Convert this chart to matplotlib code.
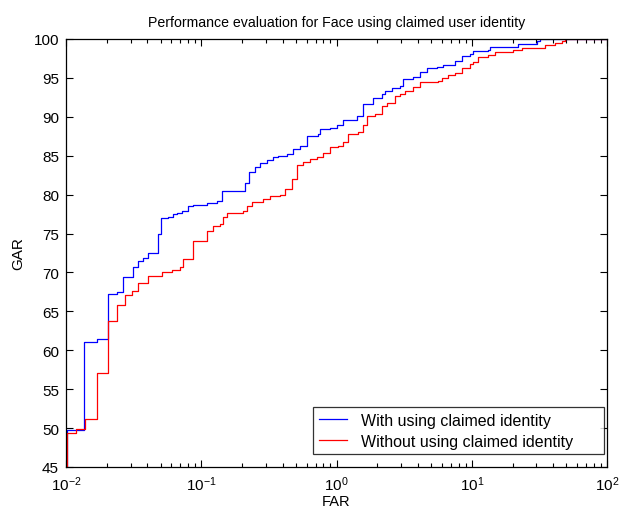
import matplotlib
matplotlib.use("Agg")
import matplotlib.pyplot as plt
from matplotlib.ticker import LogLocator

plt.rcParams['font.family'] = ['Liberation Sans', 'DejaVu Sans']
plt.rcParams['mathtext.fontset'] = 'custom'
plt.rcParams['mathtext.rm'] = 'Liberation Sans'
plt.rcParams['mathtext.it'] = 'Liberation Sans'
plt.rcParams['axes.unicode_minus'] = False

title = "Performance evaluation for Face using claimed user identity"
xlabel = "FAR"
ylabel = "GAR"
label_with = "With using claimed identity"
label_without = "Without using claimed identity"

far_with = [0.0100, 0.0101, 0.01365, 0.01687, 0.02056, 0.02395, 0.02653, 0.03113, 0.03113,
            0.03424, 0.03728, 0.04060, 0.04813, 0.05013, 0.05705, 0.06214, 0.06585, 0.07171,
            0.08024, 0.08736, 0.1097, 0.1301, 0.1416, 0.1934, 0.2106, 0.2266, 0.2497, 0.2719,
            0.3048, 0.3410, 0.3713, 0.4283, 0.4793, 0.5373, 0.6023, 0.7334, 0.7551, 0.8953,
            1.004, 1.123, 1.259, 1.411, 1.578, 1.871, 2.159, 2.284, 2.559, 2.948, 3.118, 3.697,
            4.143, 4.645, 5.507, 6.162, 7.52, 8.43, 9.707, 10.27, 13.26, 13.65, 18.14, 22.09,
            30.22, 31.97, 100.0]
gar_with = [45.0, 49.7, 61.1, 61.5, 67.2, 67.5, 69.45, 69.7, 70.7,
            71.5, 71.9, 72.45, 75.0, 76.96, 77.1, 77.5, 77.7, 77.9,
            78.5, 78.67, 78.9, 79.2, 80.5, 80.5, 81.5, 82.9, 83.5, 84.0,
            84.4, 84.8, 85.0, 85.2, 85.8, 86.3, 87.5, 87.8, 88.4, 88.55,
            88.9, 89.55, 89.6, 90.06, 91.65, 92.4, 92.9, 93.36, 93.66, 94.0, 94.86, 95.07,
            95.8, 96.23, 96.36, 96.6, 97.2, 97.86, 98.03, 98.46, 98.6, 98.93, 99.0, 99.3,
            99.78, 100.0, 100.0]

far_without = [0.0100, 0.0101, 0.01186, 0.01382, 0.01687, 0.02056, 0.02395, 0.02395, 0.02731,
               0.03061, 0.03424, 0.04060, 0.04813, 0.05099, 0.06047, 0.06964, 0.07367, 0.08736,
               0.08736, 0.1097, 0.1228, 0.1376, 0.1455, 0.1543, 0.2047, 0.2169, 0.2360, 0.2876,
               0.3224, 0.3823, 0.4162, 0.4666, 0.5079, 0.5683, 0.6370, 0.7140, 0.7989, 0.8953,
               1.031, 1.123, 1.223, 1.450, 1.578, 1.672, 1.926, 2.159, 2.350, 2.707, 2.948,
               3.210, 3.697, 4.143, 5.659, 5.996, 6.708, 7.52, 8.43, 9.707, 10.27, 11.18, 13.26,
               14.86, 20.29, 23.40, 34.8, 41.27, 46.27, 48.92, 100.0]
gar_without = [45.0, 49.4, 49.9, 51.2, 57.1, 63.7, 64.2, 65.8, 67.1,
               67.6, 68.7, 69.5, 69.6, 70.0, 70.3, 70.74, 71.7, 72.8,
               74.08, 75.36, 76.0, 76.2, 77.1, 77.7, 77.94, 78.6, 79.0, 79.4,
               79.86, 79.95, 80.7, 82.0, 83.8, 84.15, 84.58, 84.8, 85.4, 86.1,
               86.3, 86.7, 87.8, 88.1, 88.95, 90.06, 90.36, 91.4, 91.8, 92.7, 92.9,
               93.36, 93.8, 94.5, 94.56, 94.95, 95.35, 95.6, 96.23, 96.75, 97.1, 97.7, 97.94,
               98.37, 98.6, 98.8, 99.23, 99.44, 99.74, 100.0, 100.0]

yticks = [45, 50, 55, 60, 65, 70, 75, 80, 85, 90, 95, 100]

fig = plt.figure(figsize=(6.2, 5.1), dpi=100)
ax = fig.add_axes([0.1065, 0.0824, 0.8726, 0.8392])

ax.step(far_with, gar_with, where='post', color='#0000ff', lw=0.9, label=label_with)
ax.step(far_without, gar_without, where='post', color='#ff0000', lw=0.9, label=label_without)

ax.set_xscale('log')
ax.set_xlim(0.01, 100)
ax.set_ylim(45, 100)
ax.set_yticks(yticks)
ax.xaxis.set_major_locator(LogLocator(base=10, numticks=10))
ax.xaxis.set_minor_locator(LogLocator(base=10, subs=range(2, 10), numticks=20))

ax.tick_params(which='both', direction='in', top=True, right=True, labelsize=11,
               colors='black', width=0.8)
ax.tick_params(which='major', length=5)
ax.tick_params(which='minor', length=3)
ax.tick_params(axis='x', which='major', pad=5)
ax.tick_params(axis='y', which='major', pad=5)
for s in ax.spines.values():
    s.set_linewidth(0.9)

ax.set_title(title, fontsize=10.2, pad=9)
ax.set_xlabel(xlabel, fontsize=10.5, labelpad=1)
ax.set_ylabel(ylabel, fontsize=11, labelpad=6)

leg = ax.legend(loc='lower left', bbox_to_anchor=(0.4566, 0.030, 0.5379, 0.105),
                mode='expand', fontsize=11.5, frameon=True, fancybox=False,
                edgecolor='black', borderaxespad=0.0, handlelength=1.75, borderpad=0.35,
                labelspacing=0.35, handletextpad=0.9)
leg.get_frame().set_linewidth(0.9)

fig.savefig('out.png', dpi=100)
